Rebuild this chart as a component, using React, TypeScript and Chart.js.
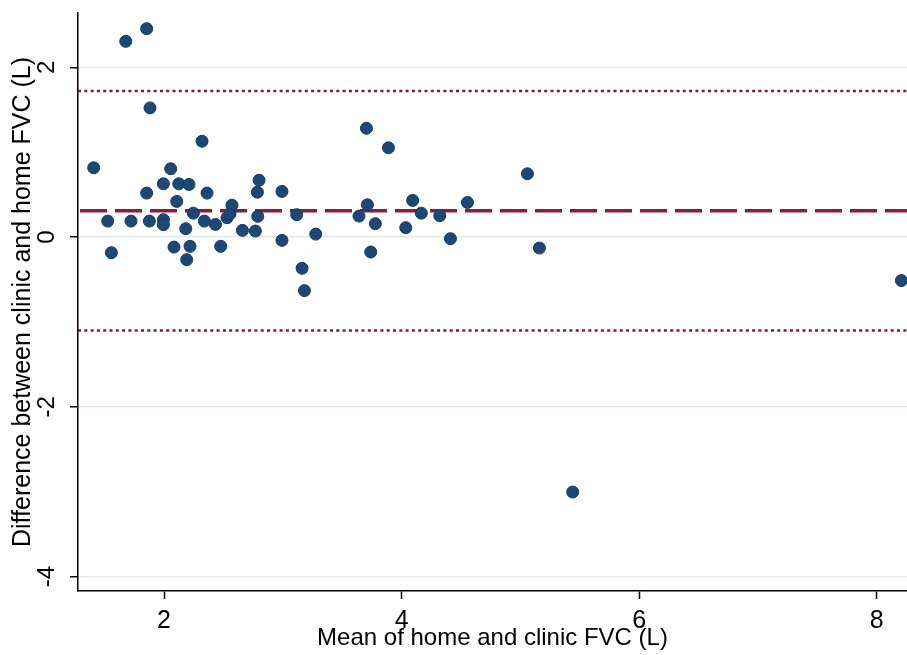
import React, { useEffect, useRef } from "react";
import { Chart, registerables } from "chart.js";

Chart.register(...registerables);

// Mean of home and clinic FVC (L)
const meanFVC = [
  1.408, 1.526, 1.557, 1.678, 1.722, 1.854, 1.854, 1.882, 1.877, 1.995,
  1.995, 1.995, 2.056, 2.084, 2.107, 2.124, 2.183, 2.191, 2.21, 2.219,
  2.247, 2.32, 2.34, 2.362, 2.433, 2.477, 2.53, 2.556, 2.572, 2.66,
  2.769, 2.789, 2.786, 2.8, 2.993, 2.993, 3.117, 3.162, 3.182, 3.277,
  3.641, 3.704, 3.712, 3.74, 3.779, 3.889, 4.035, 4.093, 4.166, 4.321,
  4.411, 4.554, 5.059, 5.16, 5.44, 8.207,
];

// Difference between clinic and home FVC (L)
const diffFVC = [
  0.816, 0.188, -0.184, 2.306, 0.188, 2.455, 0.518, 1.522, 0.188, 0.628,
  0.205, 0.146, 0.805, -0.118, 0.42, 0.628, 0.099, -0.266, 0.62, -0.109,
  0.282, 1.129, 0.188, 0.518, 0.149, -0.109, 0.228, 0.275, 0.376, 0.079,
  0.071, 0.244, 0.529, 0.67, 0.538, -0.039, 0.264, -0.368, -0.631, 0.035,
  0.247, 1.282, 0.381, -0.176, 0.158, 1.052, 0.111, 0.432, 0.282, 0.252,
  -0.019, 0.408, 0.746, -0.129, -3.004, -0.513,
];

const meanDifference = 0.31;
const upperLimit = 1.72;
const lowerLimit = -1.1;

const xMin = 1.276;
const xMax = 8.254;
const yMin = -4.17;
const yMax = 2.64;

const xTicks = [2, 4, 6, 8];
const yTicks = [-4, -2, 0, 2];

const xTitle = "Mean of home and clinic FVC (L)";
const yTitle = "Difference between clinic and home FVC (L)";

const FONT = "'Liberation Sans', Arial, Helvetica, sans-serif";

export default function App() {
  const canvasRef = useRef<HTMLCanvasElement | null>(null);

  useEffect(() => {
    const canvas = canvasRef.current;
    if (!canvas) return;
    const points = meanFVC.map((x, i) => ({ x, y: diffFVC[i] }));
    const hLine = (v: number) => [
      { x: xMin, y: v },
      { x: xMax, y: v },
    ];

    const chart = new Chart(canvas, {
      type: "scatter",
      data: {
        datasets: [
          {
            type: "scatter",
            data: points,
            backgroundColor: "#1d4775",
            borderColor: "#163a61",
            borderWidth: 1,
            pointRadius: 6,
            order: 0,
          } as any,
          {
            type: "line",
            data: hLine(meanDifference),
            borderColor: "#8c1c3f",
            borderWidth: 3.5,
            borderDash: [27, 8],
            borderDashOffset: -2,
            pointRadius: 0,
            fill: false,
            order: 1,
          } as any,
          {
            type: "line",
            data: hLine(upperLimit),
            borderColor: "#7a1d3a",
            borderWidth: 2.5,
            borderDash: [3, 3.3],
            pointRadius: 0,
            fill: false,
            order: 2,
          } as any,
          {
            type: "line",
            data: hLine(lowerLimit),
            borderColor: "#7a1d3a",
            borderWidth: 2.5,
            borderDash: [3, 3.3],
            pointRadius: 0,
            fill: false,
            order: 3,
          } as any,
        ],
      },
      options: {
        animation: false,
        responsive: false,
        maintainAspectRatio: false,
        layout: { autoPadding: false, padding: { top: 13, right: 0, left: 0, bottom: 0 } },
        plugins: {
          legend: { display: false },
          tooltip: { enabled: false },
        },
        scales: {
          x: {
            type: "linear",
            min: xMin,
            max: xMax,
            afterBuildTicks: (scale: any) => {
              scale.ticks = xTicks.map((v) => ({ value: v }));
            },
            afterFit: (scale: any) => {
              scale.height = 64;
              scale.paddingLeft = 0;
              scale.paddingRight = 0;
            },
            border: { display: true, color: "#000", width: 1.5 },
            grid: {
              drawOnChartArea: false,
              drawTicks: true,
              tickLength: 8,
              tickColor: "#000",
              tickWidth: 1.5,
            },
            ticks: {
              color: "#000",
              font: { family: FONT, size: 25, lineHeight: 1 },
              padding: 10,
              autoSkip: false,
              maxRotation: 0,
              minRotation: 0,
            },
            title: {
              display: true,
              text: xTitle,
              color: "#000",
              font: { family: FONT, size: 24, lineHeight: 1 },
              padding: { top: 0, bottom: 4.5 },
            },
          },
          y: {
            type: "linear",
            min: yMin,
            max: yMax,
            afterBuildTicks: (scale: any) => {
              scale.ticks = yTicks.map((v) => ({ value: v }));
            },
            afterFit: (scale: any) => {
              scale.width = 78;
              scale.paddingTop = 0;
              scale.paddingBottom = 0;
            },
            border: { display: true, color: "#000", width: 1.5 },
            grid: {
              color: "#e4e9ec",
              lineWidth: 1.5,
              drawTicks: true,
              tickLength: 8,
              tickColor: "#000",
              tickWidth: 1.5,
            },
            ticks: {
              color: "#000",
              font: { family: FONT, size: 24, lineHeight: 1 },
              padding: 11.6,
              autoSkip: false,
              minRotation: 90,
              maxRotation: 90,
              crossAlign: "center",
            },
            title: {
              display: true,
              text: yTitle,
              color: "#000",
              font: { family: FONT, size: 25, lineHeight: 1 },
              padding: { top: 10.5, bottom: 0 },
            },
          },
        },
      } as any,
    });

    return () => chart.destroy();
  }, []);

  return (
    <div style={{ position: "fixed", left: 0, top: 0, width: 907, height: 655, background: "#fff", overflow: "hidden" }}>
      <canvas ref={canvasRef} width={907} height={655} style={{ display: "block" }} />
    </div>
  );
}
